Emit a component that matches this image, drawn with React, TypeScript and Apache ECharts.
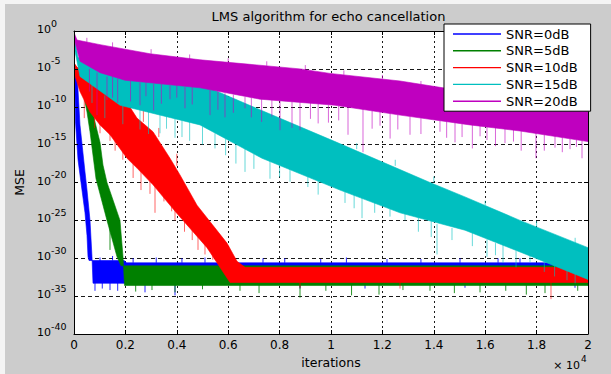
import React, { useEffect, useRef } from 'react';
import * as echarts from 'echarts';

const seriesNames = ['SNR=0dB', 'SNR=5dB', 'SNR=10dB', 'SNR=15dB', 'SNR=20dB'];
const seriesColors = ['#0000ff', '#008000', '#ff0000', '#00bfbf', '#bf00bf'];
const spikeOpacity = [0.85, 0.85, 0.6, 0.6, 0.6];

const xTickValues = [0, 2000, 4000, 6000, 8000, 10000, 12000, 14000, 16000, 18000, 20000];
const xTickLabels = ['0', '0.2', '0.4', '0.6', '0.8', '1', '1.2', '1.4', '1.6', '1.8', '2'];
const yExponents = [0, -5, -10, -15, -20, -25, -30, -35, -40];

// Outlines of each noisy MSE band: [iteration, log10(MSE)], upper edge then lower edge
const snr0Outline: number[][] = [
  [0, -4.4], [20, -5], [58, -12], [156, -17], [272, -20], [428, -24], [506, -27], [545, -29.8], [584, -30.3],
  [1950, -30.3], [2050, -30.6], [20000, -30.6],
  [20000, -33.4], [739, -33.3], [700, -29.8], [623, -25], [506, -21], [428, -18.6], [233, -12.4], [117, -5.4], [0, -5.2],
];
const snr5Outline: number[][] = [
  [0, -4.3], [233, -5.4], [350, -8], [506, -10.7], [623, -13.3], [856, -19.5], [1284, -25], [1673, -29.8], [1829, -31],
  [20000, -31],
  [20000, -33.6], [1965, -33.6], [1907, -29.8], [1790, -25], [1284, -20], [1128, -17.7], [1012, -14.7], [817, -12],
  [623, -8.8], [428, -5.8], [0, -5.2],
];
const snr10Outline: number[][] = [
  [0, -4.2], [117, -4.8], [623, -5.4], [1401, -7.5], [1790, -8.0], [2451, -11.5], [3074, -13.3], [3735, -16.8],
  [4124, -19], [4786, -23], [5953, -28], [6342, -30.4], [6654, -31.2], [20000, -31.2],
  [20000, -33.2], [6070, -33.2], [5564, -30.6], [5175, -28.6], [4008, -24.1], [3074, -20.3], [2451, -18.1],
  [2062, -16.8], [1401, -13.7], [1012, -12.4], [623, -10.7], [233, -8], [0, -5.5],
];
const snr15Outline: number[][] = [
  [0, -0.5], [156, -3.5], [4903, -7], [7237, -10.4], [10156, -14.6], [13852, -20], [15214, -21.9], [17354, -25],
  [20000, -28.6],
  [20000, -32.8], [17821, -29.8], [15214, -26.3], [12685, -24], [10350, -21], [7315, -16.8], [4903, -12.4],
  [1790, -9.8], [233, -6], [0, -2],
];
const snr20Outline: number[][] = [
  [0, -0.2], [117, -1.2], [1012, -1.8], [2957, -3.0], [4903, -3.8], [6848, -4.4], [8794, -5.0], [9961, -5.6],
  [12685, -6.6], [14358, -7.5], [20000, -9.5],
  [20000, -14.6], [17354, -13.2], [15409, -12.4], [12685, -11.1], [10156, -9.8], [7237, -9.0], [4903, -7.5],
  [1984, -6.5], [1012, -5.5], [233, -4], [0, -1],
];

// Noise spikes: [iteration, from log10, to log10]
const snr0Spikes: number[][] = [
  [817, -33, -34.3], [1100, -33, -34], [1401, -33, -34.2], [1700, -33, -34.3], [2763, -33, -34.5], [3930, -33, -34.9],
  [8794, -33, -34.0], [11323, -33, -34.0], [15214, -33, -33.9], [19494, -33, -33.9],
  [1012, -30.6, -29.9], [1500, -30.3, -29.7], [2300, -30.6, -30], [3200, -30.6, -29.9], [4200, -30.6, -30],
  [5097, -30.6, -29.9], [6100, -30.6, -30.1], [7354, -30.6, -30.0], [8200, -30.6, -30], [9600, -30.6, -30.1],
  [10600, -30.6, -29.9], [12179, -30.6, -30.1], [13500, -30.6, -30.1], [15020, -30.6, -30.0], [16500, -30.6, -30],
  [17354, -30.6, -30.0], [18600, -30.6, -30], [19600, -30.6, -30.1],
];
const snr5Spikes: number[][] = [
  [700, -12, -14], [1000, -15, -17.2], [1401, -26, -28.9], [1500, -23, -25.5],
  [2400, -33.4, -34.4], [3035, -33.4, -34.2], [3930, -33.4, -34.5], [5000, -33.4, -34.1], [6459, -33.4, -34.3],
  [7200, -33.4, -34.6], [8794, -33.4, -35.2], [9800, -33.4, -34.3], [10800, -33.4, -34.9], [11868, -33.4, -34.8],
  [12800, -33.4, -34.2], [13852, -33.4, -34.3], [14800, -33.4, -34.6], [15798, -33.4, -34.5], [16800, -33.4, -34.3],
  [17600, -33.4, -34.8], [18327, -33.4, -34.6], [19600, -33.4, -34.3],
];
const snr10Spikes: number[][] = [
  [400, -9, -11.5], [800, -11, -12.8], [1012, -12, -13.5], [1401, -13, -14.5], [1600, -13.5, -15.8],
  [1900, -14.6, -17], [2300, -17.5, -19.4], [2607, -17, -21], [2957, -18, -21.5], [3152, -19, -24],
  [3500, -20.8, -22.5], [3800, -21.8, -23.8], [3930, -22, -25], [4300, -24.5, -26.5], [4600, -25.5, -27.6],
  [4825, -26, -28.9], [5097, -27, -29.5], [5400, -28.5, -30.2], [5750, -29.5, -31],
  [1200, -7, -5.8], [2000, -9, -7.6], [2700, -12, -10.5], [3300, -14, -12.8], [4000, -17.8, -16.2],
  [8794, -33, -33.9], [12685, -33, -34], [18560, -33, -35.4],
];
const snr15Spikes: number[][] = [
  [700, -7, -9.5], [1200, -8.5, -11.5], [1900, -9.9, -12.3], [2568, -9.8, -13.0], [2900, -10.6, -13.6],
  [3346, -10.8, -13.5], [3600, -11.2, -12.9], [3930, -11.5, -14.1], [4202, -11.8, -14], [4500, -12, -14.5],
  [5000, -12.6, -15], [5486, -13.5, -15.5], [5900, -14.2, -16.4], [6300, -15, -17.5], [6654, -15.5, -18.6],
  [7000, -16.2, -18.2], [7626, -16.5, -19.5], [8000, -17.5, -19.3], [8405, -17.5, -19.9], [9100, -19, -20.6],
  [9500, -19.6, -21.6], [10545, -21, -22.7], [10900, -21.5, -23.4], [11207, -22, -24.7], [11700, -22.3, -24],
  [12296, -23.5, -24.5], [12880, -24, -25], [13400, -24.6, -26.5], [13900, -25, -27.2], [14125, -25.5, -29.5],
  [14708, -26, -27.6], [15500, -26.6, -28.4], [16070, -27.5, -29.8], [16400, -28, -29.6], [16693, -28, -30.6],
  [17200, -29, -31.2], [17743, -29.5, -30.5], [18300, -30.4, -31.8], [18700, -30.8, -32.4], [19183, -31, -32.9],
  [19500, -31.8, -33.3],
  [11000, -15.6, -14.8], [12500, -17.8, -17], [14000, -20, -19.2], [16000, -23, -22.4], [18000, -25.8, -25.1],
  [19500, -28, -27.3],
];
const snr20Spikes: number[][] = [
  [600, -5, -8], [895, -5.5, -11.1], [1284, -6, -9.1], [1500, -6, -8.8], [1700, -6.3, -9.5], [2200, -6.6, -9.3],
  [2568, -6.8, -9.8], [2800, -6.8, -8.6], [3100, -7, -10.5], [3400, -7, -9.6], [3735, -7.2, -9.0],
  [4000, -7.2, -8.8], [4319, -7.4, -10.2], [4600, -7.4, -9.7], [5292, -7.8, -11.1], [5600, -8, -10.4],
  [5875, -8.2, -11.4], [6200, -8.4, -10.8], [6654, -8.7, -10.2], [6900, -8.8, -11.4], [7300, -9, -12],
  [7700, -9.1, -11.3], [8016, -9.2, -13.1], [8483, -9.3, -12.8], [8794, -9.4, -13.1], [9200, -9.5, -11.6],
  [9500, -9.6, -12.2], [9900, -9.8, -12.1], [10300, -9.9, -11.8], [10662, -10, -13.7], [11245, -10.2, -16.0],
  [11600, -10.4, -12.9], [11907, -10.5, -12.5], [12300, -10.8, -14.2], [12600, -11, -13], [13074, -11.3, -13.7],
  [13500, -11.5, -13.6], [14241, -11.7, -13.3], [14500, -11.9, -14.1], [14825, -12, -14.7], [15100, -12.2, -14],
  [15500, -12.4, -15.5], [15800, -12.5, -13.9], [16070, -12.5, -14.4], [16400, -12.6, -15.2], [16770, -12.7, -14.8],
  [17100, -13, -14.6], [17400, -13.2, -15.8], [17976, -13.4, -16.8], [18300, -13.6, -15.8], [18716, -13.8, -15.4],
  [19000, -14, -16], [19300, -14.1, -15.6], [19550, -14.3, -15.3], [19767, -14.4, -16.8],
  [500, -1.6, -0.9], [1500, -2.2, -1.5], [3000, -3, -2.4], [4500, -3.7, -3.1], [6000, -4.2, -3.6],
  [7500, -4.6, -4.0], [9000, -5.1, -4.5], [10500, -5.8, -5.2], [12000, -6.4, -5.8], [13500, -7.2, -6.6],
];

const outlines = [snr0Outline, snr5Outline, snr10Outline, snr15Outline, snr20Outline];
const spikes = [snr0Spikes, snr5Spikes, snr10Spikes, snr15Spikes, snr20Spikes];

const FONT = '"DejaVu Sans", "Liberation Sans", sans-serif';

function bandSeries(name: string, color: string, outline: number[][]) {
  return {
    name,
    type: 'custom',
    xAxisIndex: 0,
    yAxisIndex: 0,
    data: outline,
    encode: { x: 0, y: 1 },
    clip: true,
    silent: true,
    itemStyle: { color, borderWidth: 0 },
    renderItem: (params: any, api: any) => {
      if (params.dataIndex !== 0) return;
      const pts = outline.map((p) => api.coord(p));
      return {
        type: 'polygon',
        shape: { points: pts },
        style: { fill: color, stroke: color, lineWidth: 0.6 },
      };
    },
  };
}

function spikeSeries(color: string, data: number[][], opacity: number) {
  return {
    type: 'custom',
    xAxisIndex: 0,
    yAxisIndex: 0,
    data,
    encode: { x: 0, y: [1, 2] },
    clip: true,
    silent: true,
    itemStyle: { color },
    renderItem: (params: any, api: any) => {
      const a = api.coord([api.value(0), api.value(1)]);
      const b = api.coord([api.value(0), api.value(2)]);
      return {
        type: 'line',
        shape: { x1: a[0], y1: a[1], x2: b[0], y2: b[1] },
        style: { stroke: color, lineWidth: 1, opacity },
      };
    },
  };
}

export default function App() {
  const ref = useRef<HTMLDivElement>(null);
  useEffect(() => {
    if (!ref.current) return;
    const chart = echarts.init(ref.current, null, { renderer: 'svg' });
    const series: any[] = [];
    seriesNames.forEach((n, i) => {
      series.push(spikeSeries(seriesColors[i], spikes[i], spikeOpacity[i]));
      series.push(bandSeries(n, seriesColors[i], outlines[i]));
    });
    const axisBase = { type: 'value', min: 0, max: 20000, interval: 2000 };
    const yBase = { type: 'value', min: -40, max: 0, interval: 5 };
    const option: any = {
      animation: false,
      backgroundColor: 'transparent',
      grid: {
        left: 74, top: 31, width: 514, height: 303, show: true, backgroundColor: '#ffffff', borderWidth: 0, z: -1,
      },
      xAxis: [
        {
          ...axisBase,
          position: 'bottom',
          z: 10,
          axisLine: { show: true, onZero: false, lineStyle: { color: '#000', width: 1 } },
          axisTick: { show: true, inside: true, length: 4, lineStyle: { color: '#000' } },
          axisLabel: {
            margin: 5,
            color: '#000',
            fontSize: 12,
            fontFamily: FONT,
            formatter: (v: number) => xTickLabels[xTickValues.indexOf(v)] ?? '',
          },
          splitLine: { show: false },
          name: 'iterations',
          nameLocation: 'middle',
          nameGap: 18,
          nameTextStyle: { color: '#000', fontSize: 12.5, fontFamily: FONT },
        },
        {
          ...axisBase,
          position: 'top',
          z: 1,
          axisLine: { show: true, onZero: false, lineStyle: { color: '#000', width: 1 } },
          axisTick: { show: true, inside: true, length: 4, lineStyle: { color: '#000' } },
          axisLabel: { show: false },
          splitLine: { show: true, lineStyle: { color: '#1a1a1a', width: 1, type: [2, 3] } },
        },
      ],
      yAxis: [
        {
          ...yBase,
          position: 'left',
          z: 10,
          axisLine: { show: true, onZero: false, lineStyle: { color: '#000', width: 1 } },
          axisTick: { show: true, inside: true, length: 4, lineStyle: { color: '#000' } },
          axisLabel: { show: false },
          splitLine: { show: false },
          name: 'MSE',
          nameLocation: 'middle',
          nameGap: 48,
          nameRotate: 90,
          nameTextStyle: { color: '#000', fontSize: 12.5, fontFamily: FONT },
        },
        {
          ...yBase,
          position: 'right',
          z: 1,
          axisLine: { show: true, onZero: false, lineStyle: { color: '#000', width: 1 } },
          axisTick: { show: true, inside: true, length: 4, lineStyle: { color: '#000' } },
          axisLabel: { show: false },
          splitLine: { show: true, lineStyle: { color: '#1a1a1a', width: 1, type: [4, 3] } },
        },
      ],
      legend: {
        orient: 'vertical',
        left: 444,
        top: 24,
        padding: [3, 13, 3, 9],
        itemGap: 2.8,
        itemWidth: 48,
        itemHeight: 1.4,
        icon: 'rect',
        backgroundColor: '#ffffff',
        borderColor: '#000000',
        borderWidth: 1,
        borderRadius: 0,
        itemStyle: { borderWidth: 0 },
        textStyle: { color: '#000', fontSize: 13, fontFamily: FONT, lineHeight: 14 },
        data: seriesNames.map((n, i) => ({
          name: n,
          itemStyle: { color: seriesColors[i], borderWidth: 0, borderColor: seriesColors[i], opacity: 1 },
        })),
        selectedMode: false,
      },
      series,
    };
    chart.setOption(option);

    const graphic: any[] = [];
    const textStyle = (text: string, size: number, align: string) => ({
      text,
      fill: '#000',
      fontSize: size,
      fontFamily: FONT,
      align,
      verticalAlign: 'middle',
      textAlign: align,
      textVerticalAlign: 'middle',
    });
    yExponents.forEach((e) => {
      const p = chart.convertToPixel({ xAxisIndex: 0, yAxisIndex: 0 }, [0, e]);
      graphic.push({ type: 'text', x: 37, y: p[1] - 1.5, style: textStyle('10', 11, 'left') });
      graphic.push({ type: 'text', x: 51, y: p[1] - 8, style: textStyle(String(e), 9.5, 'left') });
    });
    const corner = chart.convertToPixel({ xAxisIndex: 0, yAxisIndex: 0 }, [20000, -40]);
    graphic.push({ type: 'text', x: corner[0] - 8, y: corner[1] + 31, style: textStyle('\u00d7 10', 11, 'right') });
    graphic.push({ type: 'text', x: corner[0] - 7, y: corner[1] + 25, style: textStyle('4', 9, 'left') });
    graphic.push({
      type: 'text',
      x: 328.5,
      y: 16.5,
      style: textStyle('LMS algorithm for echo cancellation', 13, 'center'),
    });
    chart.setOption({ graphic });

    return () => chart.dispose();
  }, []);
  return (
    <div
      ref={ref}
      style={{
        position: 'fixed',
        left: 0,
        top: 0,
        width: 611,
        height: 374,
        background: '#cccccc',
        boxShadow: 'inset 5px 4px 0 0 #f4f4f4',
      }}
    />
  );
}
